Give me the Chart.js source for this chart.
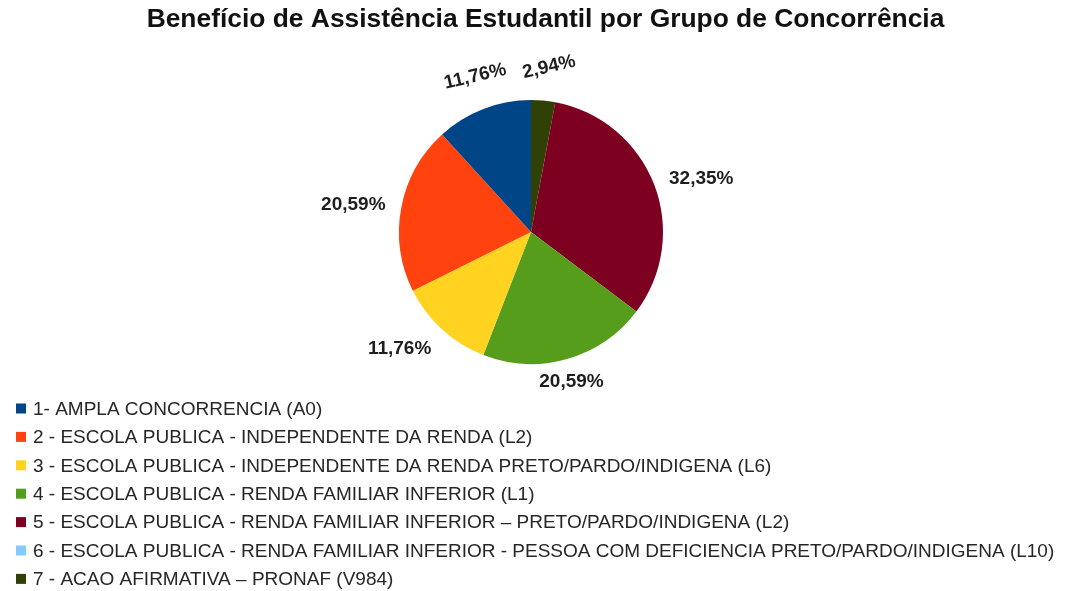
<!DOCTYPE html>
<html lang="pt-BR">
<head>
<meta charset="utf-8">
<title>Benefício de Assistência Estudantil</title>
<script src="https://cdn.jsdelivr.net/npm/chart.js@4"></script>
<style>
  html, body { margin: 0; padding: 0; background: #fff; }
  #wrap { width: 1072px; height: 591px; position: relative; }
</style>
</head>
<body>
<div id="wrap"><canvas id="grupos"></canvas></div>
<script>
// grupos de concorrência e percentual de beneficiados
const grupos = [
  "1- AMPLA CONCORRENCIA (A0)",
  "2 - ESCOLA PUBLICA - INDEPENDENTE DA RENDA (L2)",
  "3 - ESCOLA PUBLICA - INDEPENDENTE DA RENDA PRETO/PARDO/INDIGENA (L6)",
  "4 - ESCOLA PUBLICA - RENDA FAMILIAR INFERIOR (L1)",
  "5 - ESCOLA PUBLICA - RENDA FAMILIAR INFERIOR – PRETO/PARDO/INDIGENA (L2)",
  "6 - ESCOLA PUBLICA - RENDA FAMILIAR INFERIOR - PESSOA COM DEFICIENCIA PRETO/PARDO/INDIGENA (L10)",
  "7 - ACAO AFIRMATIVA – PRONAF (V984)"
];
const percentuais = [11.76, 20.59, 11.76, 20.59, 32.35, 0, 2.94];
const cores = ["#004586", "#ff420e", "#ffd320", "#579d1c", "#7e0021", "#83caff", "#314004"];

const titulo = "Benefício de Assistência Estudantil por Grupo de Concorrência";
const FONTE = "'Liberation Sans', Arial, sans-serif";

function formatPct(v) {
  return v.toFixed(2).replace(".", ",") + "%";
}

// o Chart.js desenha no sentido horário; invertendo a ordem as fatias
// ficam no sentido anti-horário a partir do topo
const ordem = grupos.map((_, i) => i).reverse();

// título um pouco à direita do centro do gráfico
const tituloTopo = {
  id: "tituloTopo",
  afterDraw(chart) {
    const ctx = chart.ctx;
    ctx.save();
    ctx.font = "bold 26.4px " + FONTE;
    ctx.fillStyle = "#111";
    ctx.textAlign = "center";
    ctx.textBaseline = "middle";
    ctx.fillText(titulo, chart.width / 2 + 9.5, 20);
    ctx.restore();
  }
};

// rótulos de percentual fora das fatias
const rotulosPct = {
  id: "rotulosPct",
  afterDatasetsDraw(chart) {
    const ctx = chart.ctx;
    const meta = chart.getDatasetMeta(0);
    const valores = chart.data.datasets[0].data;
    ctx.save();
    ctx.font = "bold 19px " + FONTE;
    ctx.fillStyle = "#1e1e1e";
    ctx.textAlign = "center";
    ctx.textBaseline = "middle";
    meta.data.forEach((arc, i) => {
      const v = valores[i];
      if (!v) return;
      const p = arc.getProps(["x", "y", "startAngle", "endAngle", "outerRadius"], true);
      const meio = (p.startAngle + p.endAngle) / 2;
      const cx = Math.cos(meio), cy = Math.sin(meio);
      const texto = formatPct(v);
      const w = ctx.measureText(texto).width;
      const h = 15;
      const d = p.outerRadius + 16;
      let x = p.x + cx * d;
      let y = p.y + cy * d;
      // alinha a caixa do texto pelo quadrante
      if (cx > 0.5) x += w / 2;
      else if (cx < -0.5) x -= w / 2;
      if (cy > 0.5) y += h / 2;
      else if (cy < -0.5) y -= h / 2;
      ctx.save();
      if (cy < -0.9) {
        // rótulos do topo ficam mais altos e inclinados
        y -= 10;
        x += 3 + cx * 15;
        ctx.translate(x, y);
        ctx.rotate(-0.23);
      } else {
        ctx.translate(x, y);
      }
      ctx.fillText(texto, 0, 0);
      ctx.restore();
    });
    ctx.restore();
  }
};

// legenda em lista, um grupo por linha
const legendaLista = {
  id: "legendaLista",
  afterDraw(chart) {
    const ctx = chart.ctx;
    const topo = chart.chartArea.bottom + 44.5;
    const passo = 28.4;
    ctx.save();
    ctx.font = "19px " + FONTE;
    ctx.textAlign = "left";
    ctx.textBaseline = "middle";
    grupos.forEach((nome, i) => {
      const y = topo + i * passo;
      ctx.fillStyle = cores[i];
      ctx.fillRect(16, y - 5, 10, 10);
      ctx.fillStyle = "#262626";
      ctx.fillText(nome, 33, y + 1);
    });
    ctx.restore();
  }
};

new Chart(document.getElementById("grupos"), {
  type: "pie",
  data: {
    labels: ordem.map(i => grupos[i]),
    datasets: [
      {
        data: ordem.map(i => percentuais[i]),
        backgroundColor: ordem.map(i => cores[i]),
        borderWidth: 0,
      },
    ],
  },
  options: {
    responsive: true,
    maintainAspectRatio: false,
    animation: false,
    layout: {
      padding: { top: 100, left: 0, right: 10, bottom: 227 },
    },
    plugins: {
      legend: { display: false },
      tooltip: { enabled: false },
      title: { display: false },
    },
  },
  plugins: [rotulosPct, legendaLista, tituloTopo],
});
</script>
</body>
</html>
